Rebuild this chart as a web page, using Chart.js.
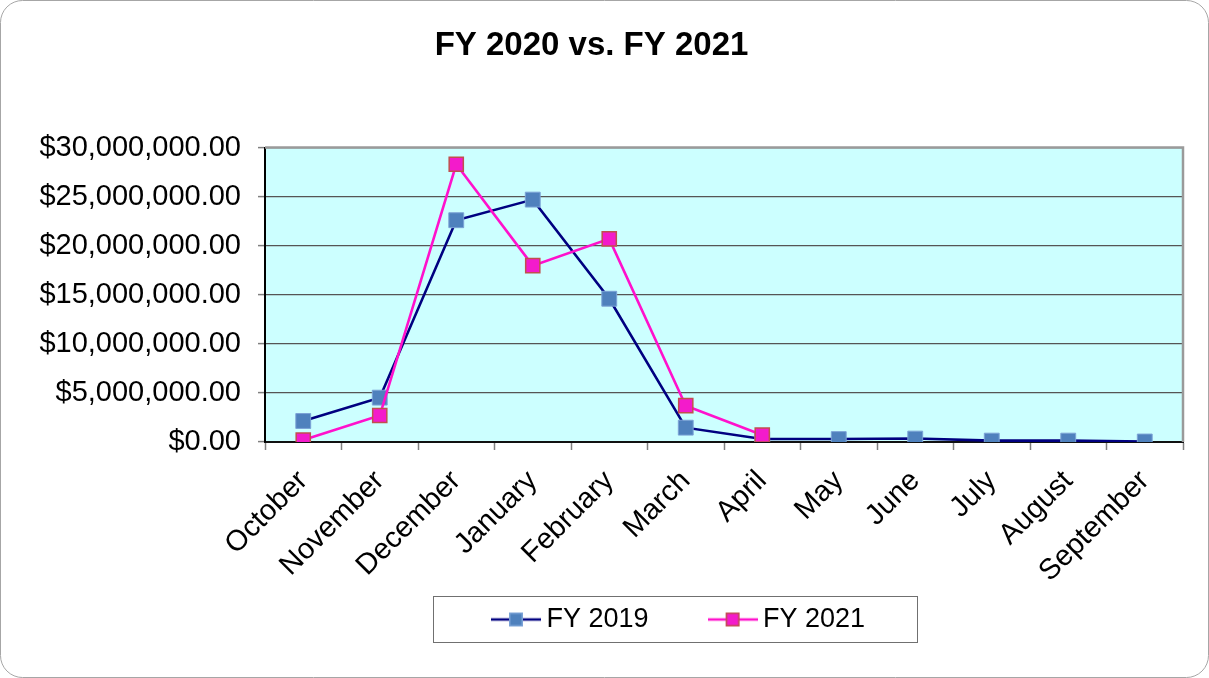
<!DOCTYPE html>
<html>
<head>
<meta charset="utf-8">
<title>FY 2020 vs. FY 2021</title>
<script src="https://cdn.jsdelivr.net/npm/chart.js@4.4.1/dist/chart.umd.min.js"></script>
<style>
  html, body { margin: 0; padding: 0; background: #fff; }
  #wrap { width: 1209px; height: 678px; }
</style>
</head>
<body>
<div id="wrap"><canvas id="fyChart" width="1209" height="678"></canvas></div>
<script>
// Data
const months = ['October', 'November', 'December', 'January', 'February', 'March',
                'April', 'May', 'June', 'July', 'August', 'September'];
const fy2019 = [2140000, 4520000, 22600000, 24700000, 14600000, 1460000,
                300000, 300000, 350000, 140000, 140000, 50000];
const fy2021 = [200000, 2700000, 28300000, 17970000, 20700000, 3700000,
                710000, null, null, null, null, null];
const seriesNames = ['FY 2019', 'FY 2021'];
const yMax = 30000000;
const yStep = 5000000;

const FONT = "'Liberation Sans', Arial, sans-serif";
Chart.defaults.font.family = FONT;
Chart.defaults.color = '#000';

// Legend symbol: short line with the square marker in the middle
function legendIcon(lineColor, fill, stroke) {
    const c = document.createElement('canvas');
    c.width = 50;
    c.height = 20;
    const g = c.getContext('2d');
    g.strokeStyle = lineColor;
    g.lineWidth = 2.5;
    g.beginPath();
    g.moveTo(0, 10);
    g.lineTo(50, 10);
    g.stroke();
    g.fillStyle = fill;
    g.fillRect(18, 3, 14, 14);
    g.strokeStyle = stroke;
    g.lineWidth = 1.5;
    g.strokeRect(18.75, 3.75, 12.5, 12.5);
    return c;
}
const icons = [
    legendIcon('#000080', '#4F81BD', '#7BA2D6'),
    legendIcon('#FF11CC', '#F31BCB', '#C0504D')
];

const LEGEND_PAD = 67;

// Plot background, frame, legend box and slide border
const decorations = {
    id: 'decorations',
    afterLayout(chart) {
        const t = chart.titleBlock;
        const tdx = 591.5 - (t.left + t.right) / 2;
        t.left += tdx; t.right += tdx;
        // legend: move it to where the reference has it
        const l = chart.legend;
        const start = (l.left + LEGEND_PAD + l.right - l.lineWidths[0]) / 2;
        const ldx = 499 - start;
        l.left += ldx; l.right += ldx;
        l.top = 606 - LEGEND_PAD;
        l.height = LEGEND_PAD + 45;
        l.bottom = l.top + l.height;
    },
    beforeDraw(chart) {
        const {ctx, chartArea: a} = chart;
        ctx.save();
        ctx.fillStyle = '#CCFFFF';
        ctx.fillRect(a.left, a.top, a.right - a.left, a.bottom - a.top);
        ctx.restore();
    },
    beforeDatasetsDraw(chart) {
        const {ctx, chartArea: a} = chart;
        ctx.save();
        ctx.strokeStyle = '#9a9a9a';
        ctx.lineWidth = 2.5;
        ctx.beginPath();
        ctx.moveTo(a.left, a.top);
        ctx.lineTo(a.right, a.top);
        ctx.lineTo(a.right, a.bottom);
        ctx.stroke();
        ctx.restore();
    },
    afterDraw(chart) {
        const {ctx} = chart;
        const boxes = chart.legend.legendHitBoxes;
        ctx.save();
        if (boxes && boxes.length) {
            const first = boxes[0];
            const last = boxes[boxes.length - 1];
            const x0 = Math.round(first.left - 66) + 0.5;
            const x1 = Math.round(last.left + last.width + 52) + 0.5;
            const y0 = Math.round(first.top - 10) + 0.5;
            const y1 = Math.round(first.top + first.height + 9) + 0.5;
            ctx.strokeStyle = '#707070';
            ctx.lineWidth = 1;
            ctx.strokeRect(x0, y0, x1 - x0, y1 - y0);
        }
        ctx.strokeStyle = '#a6a6a6';
        ctx.lineWidth = 1;
        ctx.beginPath();
        ctx.roundRect(0.5, 0.5, chart.width - 1, chart.height - 1, 22);
        ctx.stroke();
        ctx.restore();
    }
};

new Chart(document.getElementById('fyChart'), {
    type: 'line',
    data: {
        labels: months,
        datasets: [
            {
                label: seriesNames[0],
                data: fy2019,
                order: 2,
                borderColor: '#000080',
                borderWidth: 2.6,
                pointStyle: 'rect',
                pointRadius: 10.5,
                pointHoverRadius: 10.5,
                pointBackgroundColor: '#4F81BD',
                pointBorderColor: '#7BA2D6',
                pointBorderWidth: 1,
                tension: 0
            },
            {
                label: seriesNames[1],
                data: fy2021,
                order: 1,
                borderColor: '#FF11CC',
                borderWidth: 2.6,
                pointStyle: 'rect',
                pointRadius: 10,
                pointHoverRadius: 10,
                pointBackgroundColor: '#F31BCB',
                pointBorderColor: '#C0504D',
                pointBorderWidth: 1.5,
                tension: 0
            }
        ]
    },
    options: {
        responsive: false,
        animation: false,
        layout: {
            padding: { top: 0, left: 20, right: 26, bottom: 0 }
        },
        plugins: {
            title: {
                display: true,
                text: 'FY 2020 vs. FY 2021',
                color: '#000',
                font: { size: 33, weight: 'bold', family: FONT },
                padding: { top: 26, bottom: 82 }
            },
            legend: {
                position: 'bottom',
                maxHeight: 50,
                labels: {
                    usePointStyle: true,
                    pointStyleWidth: 34,
                    padding: LEGEND_PAD,
                    color: '#000',
                    font: { size: 27, family: FONT },
                    sort: (a, b) => a.datasetIndex - b.datasetIndex,
                    generateLabels(chart) {
                        const items = Chart.defaults.plugins.legend.labels.generateLabels(chart);
                        items.forEach(it => { it.pointStyle = icons[it.datasetIndex]; });
                        return items;
                    }
                }
            },
            tooltip: { enabled: false }
        },
        scales: {
            x: {
                offset: true,
                grid: {
                    display: true,
                    offset: true,
                    drawOnChartArea: false,
                    tickLength: 8,
                    tickColor: '#808080',
                    tickWidth: 1.5
                },
                border: { color: '#111', width: 2 },
                ticks: {
                    autoSkip: false,
                    minRotation: 45,
                    maxRotation: 45,
                    padding: 14,
                    color: '#000',
                    font: { size: 29, family: FONT }
                },
                afterFit(scale) { scale.height = 186; }
            },
            y: {
                min: 0,
                max: yMax,
                grid: {
                    color: '#555',
                    lineWidth: 1.2,
                    tickLength: 7,
                    tickColor: '#808080',
                    tickWidth: 1.5
                },
                border: { color: '#000', width: 2 },
                ticks: {
                    stepSize: yStep,
                    padding: 17,
                    color: '#000',
                    font: { size: 29, family: FONT },
                    callback: v => '$' + Number(v).toLocaleString('en-US', {
                        minimumFractionDigits: 2, maximumFractionDigits: 2
                    })
                },
                afterFit(scale) { scale.width = 245; }
            }
        }
    },
    plugins: [decorations]
});
</script>
</body>
</html>
